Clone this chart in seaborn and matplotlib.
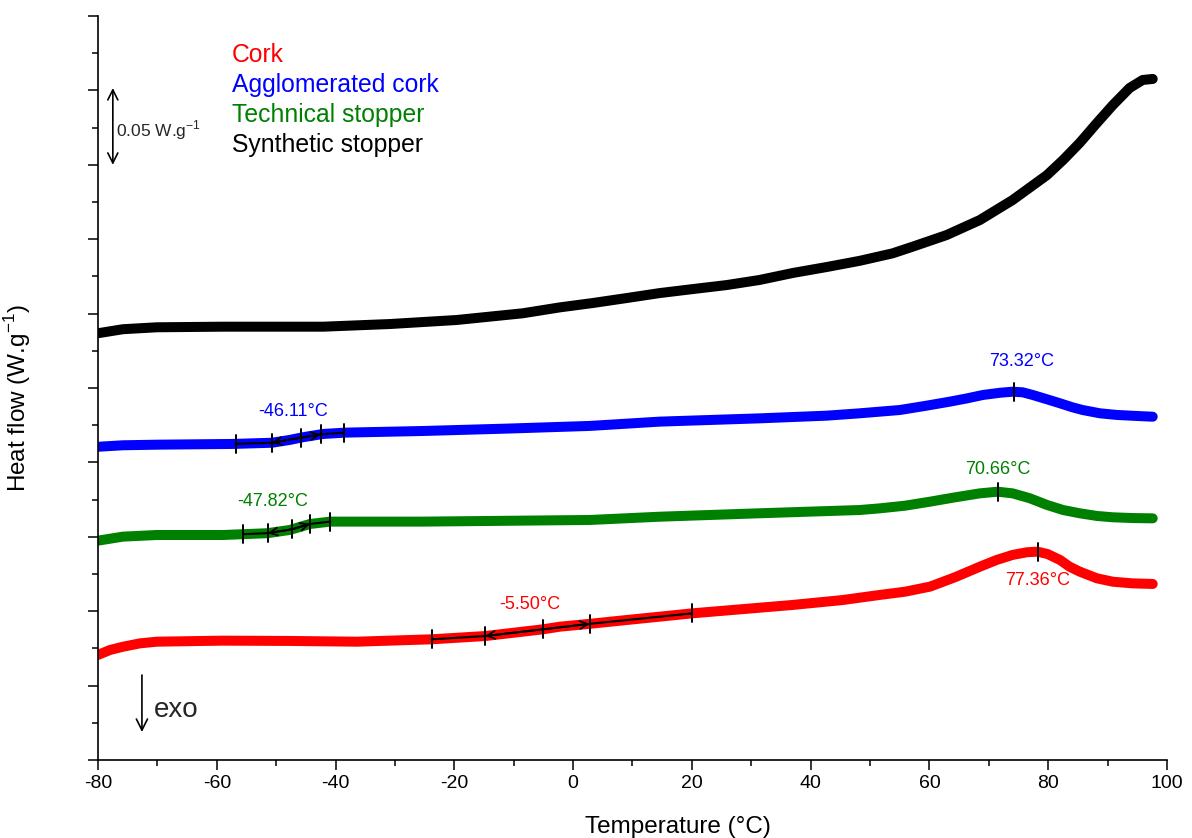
import numpy as np
import pandas as pd
import matplotlib
matplotlib.use("Agg")
import matplotlib.pyplot as plt
from matplotlib.ticker import MultipleLocator
import seaborn as sns

# DSC curves (temperature in degC, heat flow in W/g, offset stack)
temp_cork = [-80, -78, -75.8, -72.9, -70.1, -59, -47.7, -36.4, -23.8, -14.8, -5.1, -2.2,
             2.8, 9.1, 20.2, 37, 45.4, 51.6, 55.9, 60.1, 64.3, 68.5, 71.3, 74, 76.4, 78.2,
             79.9, 82, 83.6, 85.3, 88.2, 90.9, 94.2, 97.6]
hf_cork = [0.0706, 0.0739, 0.0761, 0.0784, 0.0795, 0.0802, 0.0800, 0.0795, 0.0811, 0.0833,
           0.0878, 0.0896, 0.0915, 0.0941, 0.0986, 0.1042, 0.1075, 0.1109, 0.1131, 0.1165,
           0.1228, 0.1299, 0.1344, 0.1378, 0.1396, 0.1400, 0.1384, 0.1344, 0.1299, 0.1266,
           0.1221, 0.1198, 0.1187, 0.1183]

temp_agglo = [-80, -75.8, -70.1, -57.3, -50.7, -47.7, -45.5, -42.1, -38.4, -25.3, -11.2,
              2.8, 14.6, 31.4, 42.7, 48.3, 55, 59.2, 63.4, 66.3, 69, 71.9, 74, 75.7, 77.4,
              79.8, 82, 84.1, 85.8, 88.7, 91.5, 94.9, 97.6]
hf_agglo = [0.2105, 0.2115, 0.2119, 0.2124, 0.2132, 0.2151, 0.2169, 0.2191, 0.2200, 0.2211,
            0.2227, 0.2245, 0.2274, 0.2296, 0.2314, 0.2330, 0.2352, 0.2379, 0.2408, 0.2430,
            0.2453, 0.2468, 0.2475, 0.2471, 0.2453, 0.2424, 0.2397, 0.2370, 0.2352, 0.2330,
            0.2319, 0.2312, 0.2307]

temp_tech = [-80, -75.8, -70.1, -59, -51.5, -47.7, -44.3, -40.9, -25.3, 2.8, 14.6, 31.4,
             48.3, 51.6, 55.9, 60.1, 64.3, 68.5, 71.5, 74, 76.9, 79.8, 82.5, 85.3, 88.2,
             90.9, 94.2, 97.6]
hf_tech = [0.1474, 0.1501, 0.1512, 0.1512, 0.1524, 0.1546, 0.1586, 0.1602, 0.1602, 0.1613,
           0.1635, 0.1658, 0.1680, 0.1691, 0.1709, 0.1736, 0.1765, 0.1792, 0.1803, 0.1792,
           0.1759, 0.1714, 0.1680, 0.1658, 0.1640, 0.1631, 0.1626, 0.1624]

temp_synth = [-80, -75.8, -70.1, -59, -42.1, -30.8, -19.6, -8.5, -2.2, 3.3, 9.1, 14.6, 20.2,
              25.9, 31.4, 37, 42.7, 48.3, 51.6, 53.8, 57.2, 62.9, 68.5, 74, 79.8, 82.5, 85.3,
              88.2, 90.9, 93.7, 95.9, 97.6]
hf_synth = [0.2868, 0.2895, 0.2908, 0.2912, 0.2912, 0.2930, 0.2957, 0.3002, 0.3042, 0.3071,
            0.3105, 0.3138, 0.3165, 0.3192, 0.3226, 0.3273, 0.3313, 0.3355, 0.3385, 0.3405,
            0.3450, 0.3528, 0.3629, 0.3763, 0.3931, 0.4032, 0.4147, 0.4281, 0.4402, 0.4516,
            0.4570, 0.4577]

samples = ["Cork", "Agglomerated cork", "Technical stopper", "Synthetic stopper"]
colors = ["#ff0000", "#0000ff", "#008000", "#000000"]

# glass transition construction points (onset, ..., midpoint, ..., endset)
tg_cork = [-23.8, -14.8, -5.1, 2.8, 20.0]
tg_agglo = [-56.8, -50.7, -45.8, -42.5, -38.6]
tg_tech = [-55.6, -51.4, -47.3, -44.3, -40.9]
tg_labels = ["-5.50°C", "-46.11°C", "-47.82°C"]
# peak markers as drawn, and their reported temperatures
peak_marks = [78.2, 74.2, 71.5]
peak_labels = ["77.36°C", "73.32°C", "70.66°C"]

df = pd.concat([
    pd.DataFrame({"temp": temp_cork, "hf": hf_cork, "sample": samples[0]}),
    pd.DataFrame({"temp": temp_agglo, "hf": hf_agglo, "sample": samples[1]}),
    pd.DataFrame({"temp": temp_tech, "hf": hf_tech, "sample": samples[2]}),
    pd.DataFrame({"temp": temp_synth, "hf": hf_synth, "sample": samples[3]}),
], ignore_index=True)

sns.set_style("ticks")
plt.rcParams["font.family"] = ["Liberation Sans", "DejaVu Sans"]
plt.rcParams["mathtext.fontset"] = "custom"
plt.rcParams["mathtext.rm"] = "Liberation Sans"
plt.rcParams["axes.unicode_minus"] = False

fig = plt.figure(figsize=(11.92, 8.38), dpi=100)
ax = fig.add_axes([0.0822, 0.0931, 0.8968, 0.8878])

sns.lineplot(data=df, x="temp", y="hf", hue="sample", hue_order=samples,
             palette=dict(zip(samples, colors)), linewidth=7.2, sort=False,
             estimator=None, legend=False, ax=ax)
for ln in ax.lines:
    ln.set_solid_capstyle("round")
    ln.set_solid_joinstyle("round")

ax.set_xlim(-80, 100)
ax.set_ylim(0, 0.5)
ax.xaxis.set_major_locator(MultipleLocator(20))
ax.xaxis.set_minor_locator(MultipleLocator(10))
ax.yaxis.set_major_locator(MultipleLocator(0.05))
ax.yaxis.set_minor_locator(MultipleLocator(0.025))
ax.tick_params(axis="both", which="major", direction="out", length=7, width=1.1,
               color="black", labelsize=14, labelcolor="black")
ax.tick_params(axis="both", which="minor", direction="out", length=4, width=1.1, color="black")
ax.set_yticklabels([])
sns.despine(ax=ax)
for side in ["left", "bottom"]:
    ax.spines[side].set_color("black")
    ax.spines[side].set_linewidth(1.2)

ax.set_xlabel("Temperature (°C)", fontsize=17.5, color="black")
ax.set_ylabel(r"Heat flow (W.g$^{\mathregular{-1}}$)", fontsize=17.5, color="black")
ax.xaxis.set_label_coords(0.5426, -0.075)
ax.yaxis.set_label_coords(-0.061, 0.487)

# glass transition markers
tick_h = 0.006
curves = [(temp_cork, hf_cork), (temp_agglo, hf_agglo), (temp_tech, hf_tech)]
for tg, (tx, hx) in zip([tg_cork, tg_agglo, tg_tech], curves):
    ty = np.interp(tg, tx, hx)
    ax.plot(tg, ty, color="black", lw=1.5, zorder=5)
    for xv, yv in zip(tg, ty):
        ax.plot([xv, xv], [yv - tick_h, yv + tick_h], color="black", lw=1.4, zorder=5)
    for k in (1, 3):
        ax.annotate("", xy=(tg[k], ty[k]), xytext=(tg[2], ty[2]),
                    arrowprops=dict(arrowstyle="->", lw=1.3, color="black",
                                    mutation_scale=14, shrinkA=0, shrinkB=0),
                    zorder=6)

# peak markers
for pk, (tx, hx) in zip(peak_marks, curves):
    py = np.interp(pk, tx, hx)
    ax.plot([pk, pk], [py - tick_h, py + tick_h], color="black", lw=1.4, zorder=5)

lab_fs = 13
ax.text(-7.3, 0.1042, tg_labels[0], color=colors[0], fontsize=lab_fs, ha="center", va="center")
ax.text(-47.2, 0.234, tg_labels[1], color=colors[1], fontsize=lab_fs, ha="center", va="center")
ax.text(-50.6, 0.174, tg_labels[2], color=colors[2], fontsize=lab_fs, ha="center", va="center")
ax.text(78.2, 0.1203, peak_labels[0], color=colors[0], fontsize=lab_fs, ha="center", va="center")
ax.text(75.6, 0.2675, peak_labels[1], color=colors[1], fontsize=lab_fs, ha="center", va="center")
ax.text(71.5, 0.1949, peak_labels[2], color=colors[2], fontsize=lab_fs, ha="center", va="center")

# legend as coloured text
for i, (name, col) in enumerate(zip(samples, colors)):
    ax.text(-57.4, 0.4738 - i * 0.0201, name, color=col, fontsize=17.8, ha="left", va="center")

# scale bar
ax.annotate("", xy=(-77.5, 0.4516), xytext=(-77.5, 0.400),
            arrowprops=dict(arrowstyle="<->", lw=1.2, color="black", mutation_scale=18,
                            shrinkA=0, shrinkB=0))
ax.text(-77.0, 0.4234, r"0.05 W.g$^{\mathregular{-1}}$", fontsize=12.5, ha="left", va="center")

# exo direction
ax.annotate("", xy=(-72.6, 0.0188), xytext=(-72.6, 0.0571),
            arrowprops=dict(arrowstyle="->", lw=1.2, color="black", mutation_scale=20,
                            shrinkA=0, shrinkB=0))
ax.text(-70.6, 0.0336, "exo", fontsize=20, ha="left", va="center")

fig.savefig("out.png", dpi=100)
